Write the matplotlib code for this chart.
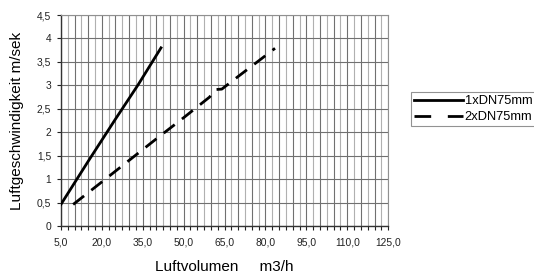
import numpy as np
import matplotlib.pyplot as plt
from matplotlib.ticker import MultipleLocator, FuncFormatter

# Luftvolumen (m3/h) / Luftgeschwindigkeit (m/sek)
x_1dn = [5.0, 15.0, 25.0, 33.4, 41.7]
y_1dn = [0.46, 1.38, 2.28, 3.02, 3.80]

x_2dn = [9.5, 20.0, 30.0, 40.0, 50.0, 59.5, 61.5, 64.0, 70.0, 77.0, 83.5]
y_2dn = [0.46, 0.94, 1.40, 1.86, 2.31, 2.75, 2.91, 2.92, 3.19, 3.50, 3.79]

x_ticks = [5, 20, 35, 50, 65, 80, 95, 110, 125]
y_ticks = [0, 0.5, 1, 1.5, 2, 2.5, 3, 3.5, 4, 4.5]

plt.rcParams['font.family'] = ['Liberation Sans', 'DejaVu Sans']

fig = plt.figure(figsize=(5.34, 2.73), dpi=100)
ax = fig.add_axes([0.114, 0.172, 0.613, 0.773])

# vertical grid every 2.5, alternating dark / light
for i, gx in enumerate(np.arange(5, 125.01, 2.5)):
    ax.axvline(gx, color='#707070' if i % 2 == 0 else '#b0b0b0', lw=0.8, zorder=0)
for gy in y_ticks:
    ax.axhline(gy, color='#707070', lw=0.8, zorder=0)

ax.plot(x_1dn, y_1dn, color='black', lw=2, label='1xDN75mm', zorder=3)
ax.plot(x_2dn, y_2dn, color='black', lw=2, dashes=(5, 3.3), label='2xDN75mm', zorder=3)

ax.set_xlim(5, 125)
ax.set_ylim(0, 4.5)
ax.set_xticks(x_ticks)
ax.xaxis.set_minor_locator(MultipleLocator(2.5))
ax.set_yticks(y_ticks)
ax.xaxis.set_major_formatter(FuncFormatter(lambda v, p: f'{v:.1f}'.replace('.', ',')))
ax.yaxis.set_major_formatter(FuncFormatter(lambda v, p: (f'{v:g}').replace('.', ',')))
ax.tick_params(axis='both', labelsize=7.4, colors='#222222', length=3, width=0.8)
ax.tick_params(axis='x', which='minor', length=3, width=0.8, color='#222222')
ax.tick_params(axis='x', pad=5)
ax.tick_params(axis='y', pad=4)

for s in ['top', 'right']:
    ax.spines[s].set_color('#909090')
for s in ['left', 'bottom']:
    ax.spines[s].set_color('#333333')
    ax.spines[s].set_linewidth(1)

ax.set_xlabel('Luftvolumen     m3/h', fontsize=11, labelpad=9)
ax.set_ylabel('Luftgeschwindigkeit m/sek', fontsize=11, labelpad=9)

leg = fig.legend(loc='upper left', bbox_to_anchor=(0.77, 0.663), fontsize=9.3,
                 handlelength=3.8, handletextpad=0.1, borderpad=0.25,
                 labelspacing=0.3, frameon=True, fancybox=False, borderaxespad=0)
leg.get_frame().set_edgecolor('#777777')
leg.get_frame().set_linewidth(0.8)
leg.get_lines()[1].set_dashes((6, 6))

fig.savefig('out.png', dpi=100)
